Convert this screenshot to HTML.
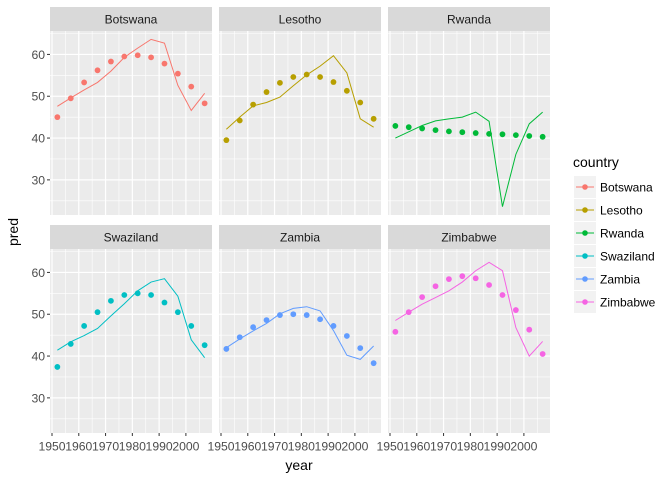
<!DOCTYPE html>
<html><head><meta charset="utf-8"><style>
body{margin:0;background:#fff;}
svg{display:block;font-family:"Liberation Sans",Arial,sans-serif;}
</style></head><body>
<svg id="chart" width="672" height="480" xmlns="http://www.w3.org/2000/svg"></svg>
<script>
const countries = ["Botswana","Lesotho","Rwanda","Swaziland","Zambia","Zimbabwe"];
const colors = ["#F8766D","#B79F00","#00BA38","#00BFC4","#619CFF","#F564E3"];
const years = [1952,1957,1962,1967,1972,1977,1982,1987,1992,1997,2002,2007];
const actualBotswana = [47.6,49.6,51.5,53.3,56.0,59.3,61.5,63.6,62.7,52.6,46.6,50.7];
const actualLesotho = [42.1,45.0,47.7,48.5,49.8,52.5,55.1,57.2,59.7,55.6,44.6,42.6];
const actualRwanda = [40.0,41.5,43.0,44.1,44.6,45.0,46.2,44.0,23.6,36.1,43.4,46.2];
const actualSwaziland = [41.4,43.4,44.9,46.6,49.6,52.5,55.6,57.7,58.5,54.3,43.9,39.6];
const actualZambia = [42.0,44.1,46.0,47.8,50.1,51.4,51.8,50.8,46.1,40.2,39.2,42.4];
const actualZimbabwe = [48.5,50.5,52.4,54.0,55.6,57.7,60.4,62.4,60.4,46.8,40.0,43.5];
const predBotswana = [45.0,49.5,53.3,56.2,58.3,59.5,59.8,59.3,57.8,55.4,52.3,48.3];
const predLesotho = [39.5,44.2,48.0,51.0,53.2,54.6,55.2,54.6,53.4,51.3,48.5,44.6];
const predRwanda = [42.9,42.6,42.3,41.9,41.6,41.4,41.2,41.0,40.9,40.7,40.5,40.3];
const predSwaziland = [37.4,42.9,47.2,50.5,53.2,54.6,55.0,54.6,52.8,50.5,47.2,42.6];
const predZambia = [41.7,44.5,46.9,48.6,49.8,50.0,49.8,48.8,47.2,44.8,41.9,38.3];
const predZimbabwe = [45.8,50.5,54.1,56.7,58.4,59.1,58.6,57.0,54.6,51.0,46.3,40.5];
const xTicks = [1950,1960,1970,1980,1990,2000];
const yTicks = [30,40,50,60];

const actuals=[actualBotswana,actualLesotho,actualRwanda,actualSwaziland,actualZambia,actualZimbabwe];
const preds=[predBotswana,predLesotho,predRwanda,predSwaziland,predZambia,predZimbabwe];
const NS="http://www.w3.org/2000/svg";
const svg=document.getElementById('chart');
function mk(tag,attrs,parent){const e=document.createElementNS(NS,tag);for(const k in attrs)e.setAttribute(k,attrs[k]);(parent||svg).appendChild(e);return e;}
const colX=[50,219,388], panelW=162;
const rowStripY=[7,225], rowPlotY=[31,249], panelH=184;
const xMin=1949.25,xMax=2009.75,yMin=21.6,yMax=65.6;
function sx(c,v){return colX[c]+(v-xMin)/(xMax-xMin)*panelW;}
function sy(r,v){return rowPlotY[r]+(yMax-v)/(yMax-yMin)*panelH;}

countries.forEach((name,i)=>{
  const c=i%3,r=Math.floor(i/3);
  const g=mk('g',{});
  
  
  const st=mk('rect',{x:colX[c],y:rowStripY[r],width:panelW,height:24,fill:'#D9D9D9'},g);
  
  
  const stt=mk('text',{x:colX[c]+panelW/2,y:rowStripY[r]+16.5,'text-anchor':'middle','font-size':'12',fill:'#1A1A1A'},g);
  stt.textContent=name;
  
  
  const bg=mk('rect',{x:colX[c],y:rowPlotY[r],width:panelW,height:panelH,fill:'#EBEBEB'},g);
  
  
  for(let v=25;v<=65;v+=10)mk('line',{x1:colX[c],x2:colX[c]+panelW,y1:sy(r,v),y2:sy(r,v),stroke:'#fff','stroke-width':0.6},g);
  for(let v=1955;v<=2005;v+=10)mk('line',{y1:rowPlotY[r],y2:rowPlotY[r]+panelH,x1:sx(c,v),x2:sx(c,v),stroke:'#fff','stroke-width':0.6},g);
  yTicks.forEach(v=>mk('line',{x1:colX[c],x2:colX[c]+panelW,y1:sy(r,v),y2:sy(r,v),stroke:'#fff','stroke-width':1.2},g));
  xTicks.forEach(v=>mk('line',{y1:rowPlotY[r],y2:rowPlotY[r]+panelH,x1:sx(c,v),x2:sx(c,v),stroke:'#fff','stroke-width':1.2},g));
  const pts=years.map((y,k)=>sx(c,y).toFixed(2)+','+sy(r,actuals[i][k]).toFixed(2)).join(' ');
  const pl=mk('polyline',{points:pts,fill:'none',stroke:colors[i],'stroke-width':1},g);
  
  
  years.forEach((y,k)=>{
    const p=mk('circle',{cx:sx(c,y),cy:sy(r,preds[i][k]),r:2.9,fill:colors[i]},g);
    
    
  });
  if(c===0){
    yTicks.forEach(v=>{
      mk('line',{x1:colX[c]-3,x2:colX[c],y1:sy(r,v),y2:sy(r,v),stroke:'#333','stroke-width':1});
      const t=mk('text',{x:colX[c]-5,y:sy(r,v)+4.5,'text-anchor':'end','font-size':'12.2',fill:'#4D4D4D'});
      t.textContent=v;
      
      
    });
  }
  if(r===1){
    xTicks.forEach(v=>{
      mk('line',{x1:sx(c,v),x2:sx(c,v),y1:rowPlotY[r]+panelH,y2:rowPlotY[r]+panelH+3,stroke:'#333','stroke-width':1});
      const t=mk('text',{x:sx(c,v),y:450.5,'text-anchor':'middle','font-size':'12.2',fill:'#4D4D4D'});
      t.textContent=v;
      
      
    });
  }
});
const xt=mk('text',{x:299,y:470,'text-anchor':'middle','font-size':'14',fill:'#000'});
xt.textContent='year';


const yt=mk('text',{x:0,y:0,transform:'translate(18,232) rotate(-90)','text-anchor':'middle','font-size':'14',fill:'#000'});
yt.textContent='pred';


const lt=mk('text',{x:573,y:167,'font-size':'14',fill:'#000'});
lt.textContent='country';


countries.forEach((name,i)=>{
  const cy=187+i*23;
  const g=mk('g',{});
  
  
  mk('rect',{x:574,y:cy-11,width:22,height:22,fill:'#F2F2F2'},g);
  mk('line',{x1:576,x2:594,y1:cy,y2:cy,stroke:colors[i],'stroke-width':1},g);
  mk('circle',{cx:585,cy:cy,r:2.8,fill:colors[i]},g);
  const t=mk('text',{x:600,y:cy+4.5,'font-size':'12',fill:'#000'},g);
  t.textContent=name;
});
</script>
</body></html>
